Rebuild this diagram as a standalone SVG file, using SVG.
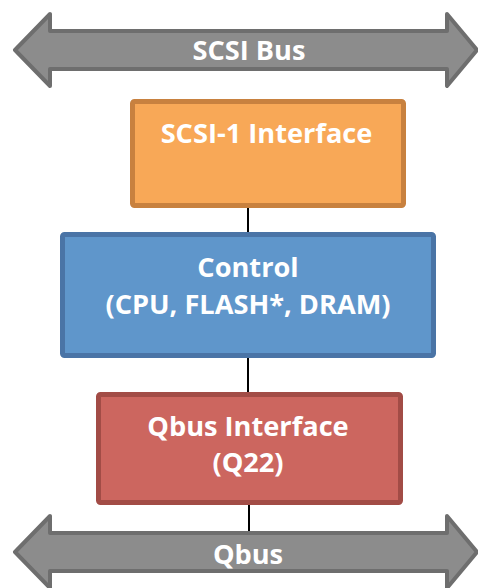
<svg xmlns="http://www.w3.org/2000/svg" width="478" height="588" viewBox="0 0 478 588">
<style>
.bus{fill:#8c8c8c;stroke:#6e6e6e;stroke-width:4;stroke-linejoin:round}
.t{font-family:"Open Sans","Liberation Sans",sans-serif;font-weight:bold;fill:#ffffff;text-anchor:middle;font-size:27.2px}
.c{stroke:#000;stroke-width:2;fill:none}
.b{stroke-width:5}
</style>
<rect width="478" height="588" fill="#ffffff"/>
<g id="connectors">
<line class="c" x1="248" y1="206" x2="248" y2="233"/>
<line class="c" x1="248" y1="357" x2="248" y2="393"/>
<line class="c" x1="249" y1="504" x2="249" y2="533"/>
</g>
<g id="scsi-bus">
<path class="bus" d="M15,50 L50,14 L50,31 L447,31 L447,14 L477,50 L447,86 L447,69 L50,69 L50,86 Z"/>
<text class="t" x="249" y="60">SCSI Bus</text>
</g>
<g id="scsi-interface">
<rect class="b" x="132.5" y="101.5" width="271" height="104" rx="2" fill="#f8a857" stroke="#c8813f"/>
<text class="t" x="266.5" y="143">SCSI-1 Interface</text>
</g>
<g id="control">
<rect class="b" x="62.5" y="234.5" width="371" height="121" rx="2" fill="#5f96cb" stroke="#4a74a6"/>
<text class="t" x="248" y="277">Control</text>
<text class="t" x="248" y="314">(CPU, FLASH*, DRAM)</text>
</g>
<g id="qbus-interface">
<rect class="b" x="98.5" y="394.5" width="302" height="108" rx="2" fill="#cc665f" stroke="#a24c46"/>
<text class="t" x="248" y="436">Qbus Interface</text>
<text class="t" x="248" y="472">(Q22)</text>
</g>
<g id="qbus">
<path class="bus" d="M15,552 L50,516 L50,533 L447,533 L447,516 L477,552 L447,588 L447,571 L50,571 L50,588 Z"/>
<text class="t" x="248" y="564">Qbus</text>
</g>
</svg>
